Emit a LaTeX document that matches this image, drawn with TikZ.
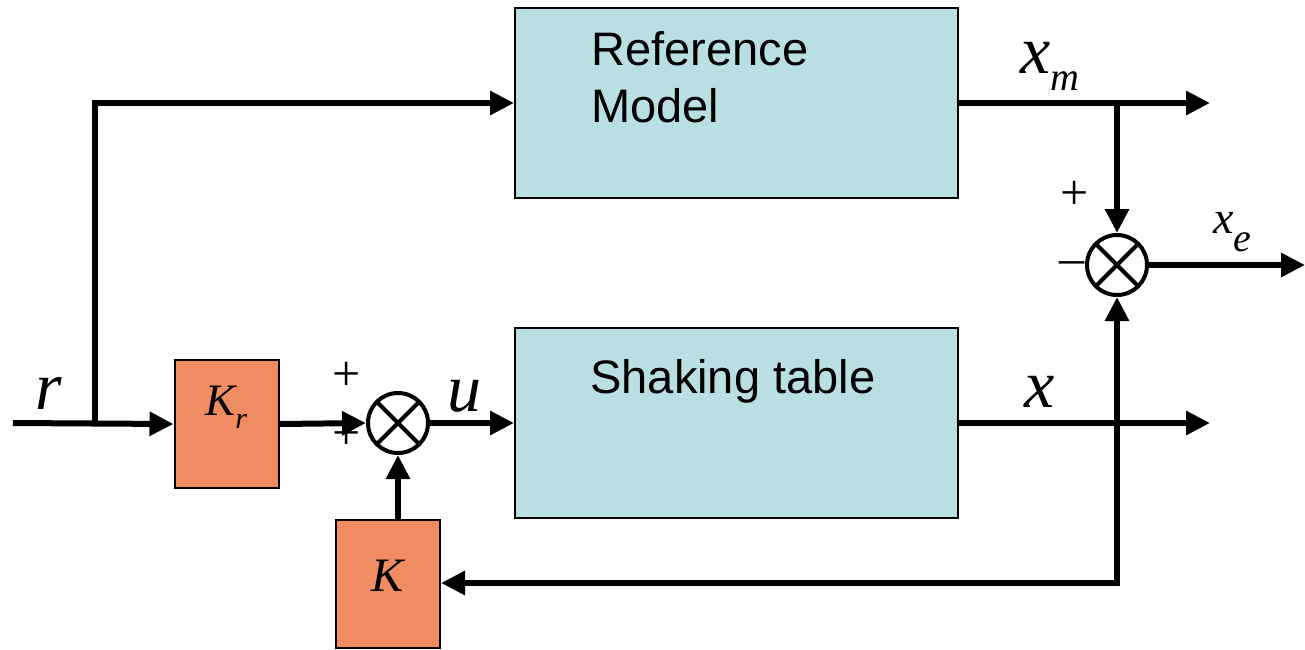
\documentclass[tikz,border=0pt]{standalone}
\usepackage{fontspec}
\setmainfont{Liberation Sans}
\newfontfamily\tms{Liberation Serif}
\usetikzlibrary{arrows.meta,calc,positioning}
\definecolor{modelcyan}{HTML}{B9DFE3}
\definecolor{gainorange}{HTML}{F08C61}

\begin{document}
\begin{tikzpicture}[x=0.5pt,y=-0.5pt,>={Triangle[length=12pt,width=11.5pt]},
  sig/.style={line width=3pt,->},
  wire/.style={line width=3pt},
  plant/.style={draw,line width=1pt,fill=modelcyan,minimum width=221.5pt,minimum height=95pt,inner sep=0pt},
  gain/.style={draw,line width=1pt,fill=gainorange,minimum width=52pt,minimum height=64pt,inner sep=0pt},
  sumpt/.style={circle,draw,line width=2pt,fill=white,minimum size=30pt,inner sep=0pt,
    path picture={\draw[line width=2pt] (path picture bounding box.north west)--(path picture bounding box.south east)
      (path picture bounding box.north east)--(path picture bounding box.south west);}},
  sym/.style={inner sep=0pt,font=\tms\itshape},
  sgn/.style={inner sep=0pt,font=\tms\fontsize{25}{25}\selectfont},
  blocktext/.style={inner sep=0pt,anchor=base west,align=left,font=\fontsize{23.5}{28.5}\selectfont}]
\useasboundingbox (0,0) rectangle (1305,649);
% blocks
\node[plant] (refm) at (736.5,103) {};
\node[plant] (table) at (736.5,423) {};
\node[gain] (kr) at (226.5,424) {};
\node[gain] (kfb) at (388,584) {};
\node[sumpt] (sumu) at (398,423) {};
\node[sumpt] (sume) at (1117,265) {};
\node[blocktext] (refmtxt) at (591,122) {Reference\\Model};
\node[blocktext] (tabletxt) at (590,393) {Shaking table};
\node[sym,anchor=base west] (krtxt) at (205,415) {\fontsize{22.5}{22.5}\selectfont K\raisebox{-0.3em}{\fontsize{15}{15}\selectfont r}};
\node[sym] (ktxt) at (388,576) {\fontsize{24}{24}\selectfont K};
% signals
\coordinate (rin) at (13,423);
\coordinate (rsplit) at (95,423);
\coordinate (rtop) at (95,103);
\coordinate (xmend) at (1210,103);
\coordinate (xmsplit) at (1117,103);
\coordinate (xend) at (1210,423);
\coordinate (xeend) at (1305,265);
\coordinate (fbcorner) at (1117,583);
\draw[sig] (rin) -- (kr.west);
\draw[wire] (rsplit) -- (rtop);
\draw[sig] ([xshift=-1.5pt]rtop) -- (refm.west |- rtop);
\draw[sig] (kr.east) -- (sumu.west);
\draw[sig] (sumu.east) -- (table.west);
\draw[sig] (kfb.north -| sumu) -- (sumu.south);
\draw[sig] (refm.east |- xmend) -- (xmend);
\draw[sig] (xmsplit) -- (sume.north);
\draw[sig] (table.east) -- (xend);
\draw[sig] (sume.east) -- (xeend);
\draw[sig] (fbcorner) -- (sume.south);
\draw[sig] ([xshift=1.5pt]fbcorner) -- (kfb.east |- fbcorner);
% labels
\node[sym] (rlbl) at (49,393) {\fontsize{34}{34}\selectfont r};
\node[sym] (ulbl) at (464,396) {\fontsize{34}{34}\selectfont u};
\node[sym] (xlbl) at (1040,392) {\fontsize{34}{34}\selectfont x};
\node[sym,anchor=base west] (xmlbl) at (1020,73) {\fontsize{34}{34}\selectfont x\raisebox{-0.25em}{\fontsize{20}{20}\selectfont m}};
\node[sym,anchor=base west] (xelbl) at (1213,233) {\fontsize{23}{23}\selectfont x\raisebox{-0.4em}{\fontsize{20}{20}\selectfont e}};
\node[sgn] (pu1) at (347,376) {+};
\node[sgn] (pu2) at (347,435) {+};
\node[sgn] (pe) at (1075,195) {+};
\node[sgn] (me) at (1072,268) {\textendash};
\end{tikzpicture}
\end{document}
